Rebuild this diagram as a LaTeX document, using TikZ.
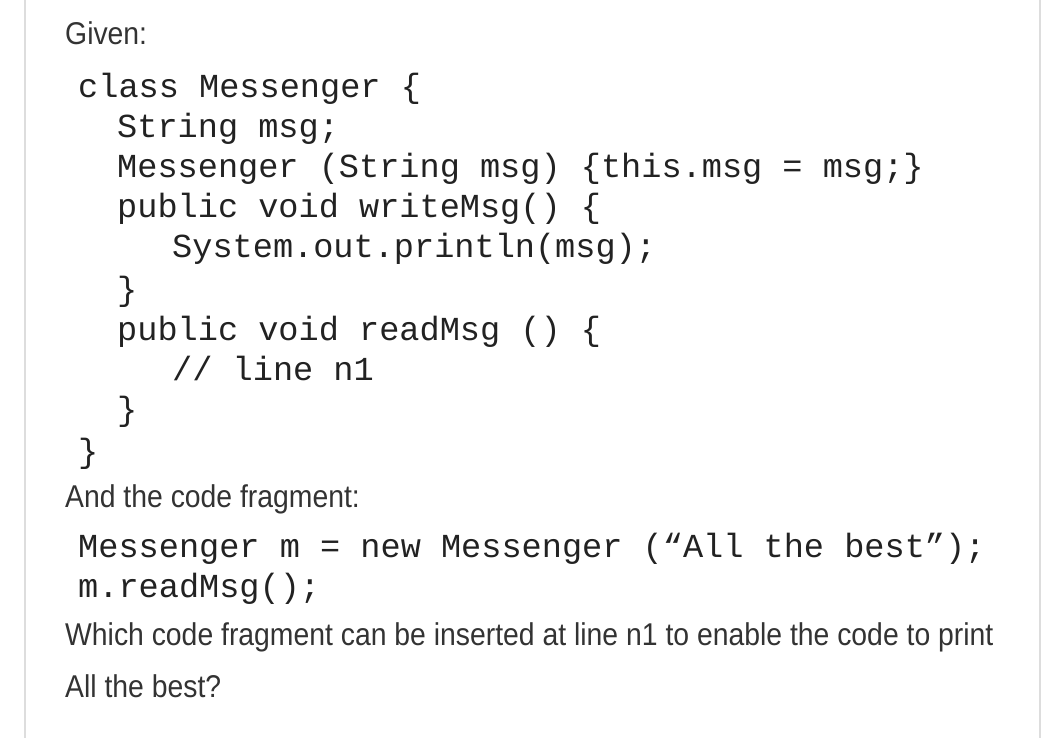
\documentclass[tikz,border=0pt]{standalone}
\usepackage{fontspec}
\setmainfont{Liberation Sans}[FakeStretch=0.9]
\setmonofont{Liberation Mono}
\definecolor{txt}{HTML}{333333}
\definecolor{codec}{HTML}{222222}
\definecolor{frame}{HTML}{DDDDDD}
\begin{document}
\begin{tikzpicture}[x=1pt,y=-1pt,
  prose/.style={anchor=base west,inner sep=0pt,text=txt,font=\fontsize{31.5}{33}\selectfont},
  code/.style={anchor=base west,inner sep=0pt,text=codec,font=\ttfamily\fontsize{33.6}{34}\selectfont}]
\useasboundingbox[fill=white] (0,0) rectangle (1060,738);
\draw[frame,line width=1.5pt] (25,0) -- (25,738);
\draw[frame,line width=1.5pt] (1040,0) -- (1040,738);
\node[prose] (given) at (65,45) {Given:};
\node[code] (c1) at (78,98) {class Messenger \{};
\node[code] (c2) at (117,138) {String msg;};
\node[code] (c3) at (117,178) {Messenger (String msg) \{this.msg = msg;\}};
\node[code] (c4) at (117,218) {public void writeMsg() \{};
\node[code] (c5) at (172,258) {System.out.println(msg);};
\node[code] (c6) at (117,300) {\}};
\node[code] (c7) at (117,340) {public void readMsg () \{};
\node[code] (c8) at (172,380) {// line n1};
\node[code] (c9) at (117,420) {\}};
\node[code] (c10) at (78,462) {\}};
\node[prose] (and) at (65,507) {And the code fragment:};
\node[code] (f1) at (78,557) {Messenger m = new Messenger (“All the best”);};
\node[code] (f2) at (78,597) {m.readMsg();};
\node[prose] (q1) at (65,645) {Which code fragment can be inserted at line n1 to enable the code to print};
\node[prose] (q2) at (65,697) {All the best?};
\end{tikzpicture}
\end{document}
